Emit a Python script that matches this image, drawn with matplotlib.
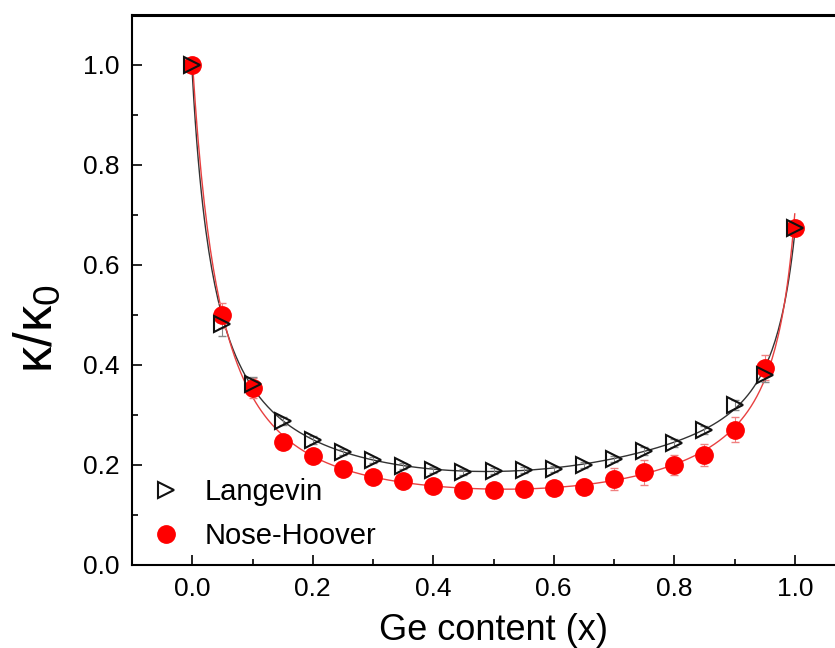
import matplotlib
matplotlib.use("Agg")
import matplotlib.pyplot as plt
import numpy as np
from matplotlib.ticker import MultipleLocator, FormatStrFormatter

plt.rcParams["font.family"] = ["Liberation Sans", "DejaVu Sans"]
plt.rcParams["mathtext.fontset"] = "custom"
plt.rcParams["mathtext.rm"] = "Liberation Sans"

# Ge content and normalised thermal conductivity for both thermostats
ge_content = [0.0, 0.05, 0.10, 0.15, 0.20, 0.25, 0.30, 0.35, 0.40, 0.45, 0.50,
              0.55, 0.60, 0.65, 0.70, 0.75, 0.80, 0.85, 0.90, 0.95, 1.0]
langevin = [1.0, 0.483, 0.362, 0.288, 0.251, 0.227, 0.210, 0.198, 0.191, 0.187, 0.189,
            0.191, 0.193, 0.201, 0.212, 0.228, 0.245, 0.271, 0.320, 0.381, 0.675]
langevin_err = [0.005, 0.025, 0.015, 0.008, 0.008, 0.006, 0.006, 0.006, 0.006, 0.006, 0.006,
                0.006, 0.006, 0.006, 0.006, 0.008, 0.008, 0.008, 0.010, 0.015, 0.005]
nose_hoover = [1.0, 0.500, 0.355, 0.247, 0.218, 0.192, 0.177, 0.168, 0.159, 0.151, 0.151,
               0.153, 0.155, 0.157, 0.173, 0.186, 0.201, 0.221, 0.271, 0.395, 0.675]
nose_hoover_err = [0.005, 0.025, 0.020, 0.012, 0.012, 0.012, 0.010, 0.010, 0.010, 0.010, 0.010,
                   0.010, 0.012, 0.015, 0.022, 0.025, 0.020, 0.022, 0.025, 0.025, 0.008]

x = np.array(ge_content)
x_fine = np.linspace(0.0, 1.0, 400)

fig = plt.figure(figsize=(8.35, 6.48), dpi=100)
ax = fig.add_axes([132 / 835, 83 / 648, 723 / 835, 550 / 648])


def fit_curve(values):
    # smooth fit of the reciprocal conductivity
    coeffs = np.polyfit(x, 1.0 / np.array(values), 7)
    return 1.0 / np.polyval(coeffs, x_fine)


ax.plot(x_fine, fit_curve(langevin), color="#333333", lw=1.0, zorder=2)
ax.plot(x_fine, fit_curve(nose_hoover), color="#e84040", lw=1.0, zorder=2)

ax.errorbar(ge_content, nose_hoover, yerr=nose_hoover_err, fmt="none",
            ecolor="#f08080", elinewidth=0.8, capsize=3, zorder=3)
ax.errorbar(ge_content, langevin, yerr=langevin_err, fmt="none",
            ecolor="#888888", elinewidth=0.8, capsize=3, zorder=3)
ax.plot(ge_content, nose_hoover, "o", ms=12.5, color="red", mec="red",
        label="Nose-Hoover", zorder=4)
ax.plot(ge_content, langevin, ">", ms=12, mfc="none", mec="#111111", mew=1.5,
        label="Langevin", zorder=5)

ax.set_xlim(-0.1, 1.1)
ax.set_ylim(0.0, 1.1)
ax.xaxis.set_major_locator(MultipleLocator(0.2))
ax.xaxis.set_minor_locator(MultipleLocator(0.1))
ax.yaxis.set_major_locator(MultipleLocator(0.2))
ax.yaxis.set_minor_locator(MultipleLocator(0.1))
ax.xaxis.set_major_formatter(FormatStrFormatter("%.1f"))
ax.yaxis.set_major_formatter(FormatStrFormatter("%.1f"))
ax.tick_params(which="both", direction="in", top=False, right=False,
               labelsize=19, width=1.2)
ax.tick_params(which="major", length=7, pad=9)
ax.tick_params(which="minor", length=4)
for side in ["left", "bottom"]:
    ax.spines[side].set_linewidth(1.5)
ax.spines["top"].set_linewidth(2.2)

ax.set_xlabel("Ge content (x)", fontsize=26, labelpad=8)
ax.set_ylabel(r"κ/κ$_\mathregular{0}$", fontsize=38)
ax.yaxis.set_label_coords(-0.095, 0.43)

handles, labels = ax.get_legend_handles_labels()
ax.legend(handles[::-1], labels[::-1], loc="lower left", bbox_to_anchor=(-0.005, -0.01),
          frameon=False, fontsize=21, handletextpad=0.7, labelspacing=0.55,
          handlelength=1.2, borderaxespad=0.3)

fig.savefig("out.png", dpi=100, facecolor="white")
